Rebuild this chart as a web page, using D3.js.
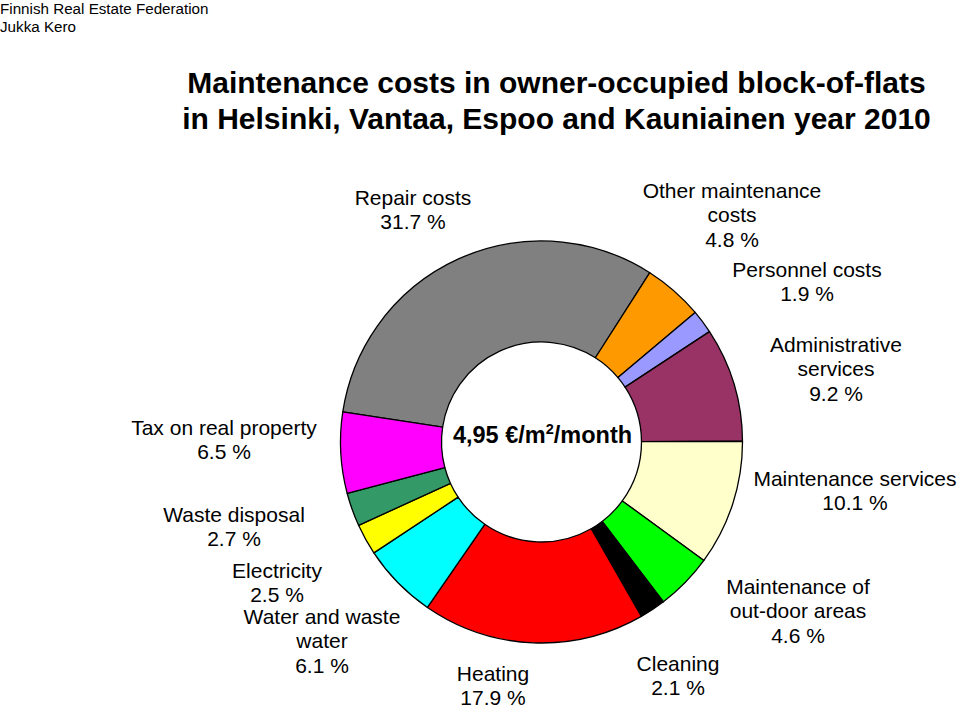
<!DOCTYPE html>
<html>
<head>
<meta charset="utf-8">
<script src="https://cdn.jsdelivr.net/npm/d3@7"></script>
<style>
  html, body { margin: 0; padding: 0; background: #fff; }
  svg { display: block; font-family: "Liberation Sans", Arial, sans-serif; }
</style>
</head>
<body>
<svg id="chart" width="960" height="708"></svg>
<script>
// ---- data ----
const categories = [
  "Repair costs", "Other maintenance costs", "Personnel costs", "Administrative services",
  "Maintenance services", "Maintenance of out-door areas", "Cleaning", "Heating",
  "Water and waste water", "Electricity", "Waste disposal", "Tax on real property"
];
const values = [31.7, 4.8, 1.9, 9.2, 10.1, 4.6, 2.1, 17.9, 6.1, 2.5, 2.7, 6.5];
const labelLines = [
  ["Repair costs"], ["Other maintenance", "costs"], ["Personnel costs"], ["Administrative", "services"],
  ["Maintenance services"], ["Maintenance of", "out-door areas"], ["Cleaning"], ["Heating"],
  ["Water and waste", "water"], ["Electricity"], ["Waste disposal"], ["Tax on real property"]
];
const sliceColors = ["#808080", "#FF9900", "#9999FF", "#993366", "#FFFFCC", "#00FF00",
  "#000000", "#FF0000", "#00FFFF", "#FFFF00", "#339966", "#FF00FF"];
const centerValue = "4,95";
const centerUnitPre = " €/m";
const centerUnitSup = "2";
const centerUnitPost = "/month";
const titleLines = ["Maintenance costs in owner-occupied block-of-flats",
                    "in Helsinki, Vantaa, Espoo and Kauniainen year 2010"];
const sourceLines = ["Finnish Real Estate Federation", "Jukka Kero"];

// ---- layout (positions of label blocks: center x, first baseline y) ----
const labelAnchors = [
  [413, 205], [732, 198], [807, 277], [836, 352],
  [855, 486], [798, 594], [678, 671], [493, 681],
  [322, 624], [277, 578], [234, 522], [224, 435]
];
const lineGap = 24.3;

const svg = d3.select("#chart");
const cx = 541.5, cy = 442, rOuter = 201, rInner = 100;
const startDeg = -81.4;

// source text
svg.append("g").selectAll("text").data(sourceLines).join("text")
  .attr("x", 0).attr("y", (d, i) => 14 + i * 18)
  .attr("font-size", 15.2).attr("fill", "#000").text(d => d);

// title
svg.append("g").selectAll("text").data(titleLines).join("text")
  .attr("x", 556.5).attr("y", (d, i) => 93 + i * 36)
  .attr("text-anchor", "middle").attr("font-size", 30).attr("font-weight", "bold")
  .attr("fill", "#000").text(d => d);

// donut
const start = startDeg * Math.PI / 180;
const pie = d3.pie().sort(null).value(d => d).startAngle(start).endAngle(start + 2 * Math.PI);
const arc = d3.arc().innerRadius(rInner).outerRadius(rOuter);
const g = svg.append("g").attr("transform", `translate(${cx},${cy})`);
g.selectAll("path").data(pie(values)).join("path")
  .attr("d", arc)
  .attr("fill", (d, i) => sliceColors[i])
  .attr("stroke", "#000").attr("stroke-width", 1.3).attr("stroke-linejoin", "round");

// center label
const ct = svg.append("text").attr("x", 542.5).attr("y", 443)
  .attr("text-anchor", "middle").attr("font-size", 23.5).attr("font-weight", "bold").attr("fill", "#000");
ct.append("tspan").text(centerValue + centerUnitPre);
ct.append("tspan").attr("font-size", 14.5).attr("dy", -9).text(centerUnitSup);
ct.append("tspan").attr("dy", 9).text(centerUnitPost);

// slice labels
const fmt = v => v.toFixed(1) + " %";
const lg = svg.append("g").attr("font-size", 21).attr("fill", "#000").attr("text-anchor", "middle");
categories.forEach((c, i) => {
  const lines = labelLines[i].concat([fmt(values[i])]);
  const t = lg.append("text");
  lines.forEach((ln, j) => {
    t.append("tspan").attr("x", labelAnchors[i][0]).attr("y", labelAnchors[i][1] + j * lineGap).text(ln);
  });
});
</script>
</body>
</html>
